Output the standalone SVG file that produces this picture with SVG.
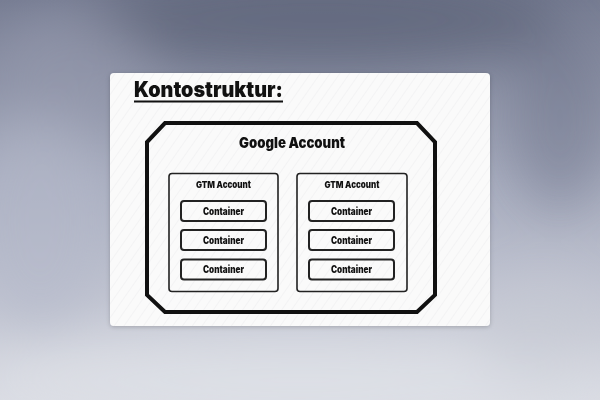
<svg xmlns="http://www.w3.org/2000/svg" width="600" height="400" viewBox="0 0 600 400">
<defs>
<linearGradient id="bg" x1="0" y1="0" x2="0" y2="1">
<stop offset="0" stop-color="#767c92"/>
<stop offset="0.45" stop-color="#a7acbe"/>
<stop offset="1" stop-color="#d9dbe3"/>
</linearGradient>
<filter id="blur" x="-50%" y="-50%" width="200%" height="200%"><feGaussianBlur stdDeviation="25"/></filter>
<filter id="shadow" x="-10%" y="-10%" width="120%" height="120%"><feDropShadow dx="0" dy="1" stdDeviation="2" flood-color="#000" flood-opacity="0.2"/></filter>
<pattern id="stripes" width="8" height="8" patternUnits="userSpaceOnUse" patternTransform="rotate(35)">
<rect width="8" height="8" fill="#fafafa"/>
<line x1="0" y1="0" x2="0" y2="8" stroke="#f1f1f3" stroke-width="1.5"/>
</pattern>
<style>
.t{font-family:Inter,Roboto,"Liberation Sans",sans-serif;font-weight:900;fill:#111;text-anchor:middle}
.gtm{fill:none;stroke:#222;stroke-width:1.6}
.cont{fill:none;stroke:#222;stroke-width:2}
.small{font-size:9.5px}
.ctext{font-size:10px}
</style>
</defs>
<rect width="600" height="400" fill="url(#bg)"/>
<g filter="url(#blur)">
<ellipse cx="320" cy="20" rx="240" ry="50" fill="#5d6378" opacity="0.7"/>
<ellipse cx="560" cy="120" rx="50" ry="90" fill="#6a7088" opacity="0.45"/>
<ellipse cx="40" cy="220" rx="70" ry="110" fill="#b4b9c9" opacity="0.6"/>
<ellipse cx="70" cy="70" rx="80" ry="60" fill="#959aae" opacity="0.6"/>
<ellipse cx="300" cy="380" rx="320" ry="40" fill="#dfe1e7" opacity="0.8"/>
<ellipse cx="540" cy="330" rx="70" ry="50" fill="#c6c9d4" opacity="0.6"/>
</g>
<rect x="110" y="73" width="380" height="253" rx="4" fill="url(#stripes)" filter="url(#shadow)"/>
<g id="title">
<text x="134" y="97" font-family="Inter,Roboto,'Liberation Sans',sans-serif" font-weight="900" font-size="21" fill="#111" textLength="149" lengthAdjust="spacingAndGlyphs">Kontostruktur:</text>
<rect x="134" y="100.5" width="149" height="2" fill="#111"/>
</g>
<g id="google-account">
<polygon points="165,123 417,123 435,142 435,295 417,312 165,312 147,295 147,142" fill="none" stroke="#111" stroke-width="4" stroke-linejoin="miter"/>
<text class="t" x="292" y="148" font-size="15" textLength="106" lengthAdjust="spacingAndGlyphs">Google Account</text>
</g>
<g id="gtm-account-1">
<rect class="gtm" x="169" y="173.5" width="109" height="118" rx="3"/>
<text class="t small" x="223.5" y="187.5" textLength="55" lengthAdjust="spacingAndGlyphs">GTM Account</text>
</g>
<g id="gtm-account-2">
<rect class="gtm" x="297" y="173.5" width="110" height="118" rx="3"/>
<text class="t small" x="352" y="187.5" textLength="55" lengthAdjust="spacingAndGlyphs">GTM Account</text>
</g>
<g id="container-1-1"><rect class="cont" x="181" y="201" width="85" height="20" rx="3"/><text class="t ctext" x="223.5" y="214.5" textLength="41" lengthAdjust="spacingAndGlyphs">Container</text></g>
<g id="container-1-2"><rect class="cont" x="181" y="230" width="85" height="20" rx="3"/><text class="t ctext" x="223.5" y="243.5" textLength="41" lengthAdjust="spacingAndGlyphs">Container</text></g>
<g id="container-1-3"><rect class="cont" x="181" y="259.5" width="85" height="20" rx="3"/><text class="t ctext" x="223.5" y="273" textLength="41" lengthAdjust="spacingAndGlyphs">Container</text></g>
<g id="container-2-1"><rect class="cont" x="309" y="201" width="85" height="20" rx="3"/><text class="t ctext" x="351.5" y="214.5" textLength="41" lengthAdjust="spacingAndGlyphs">Container</text></g>
<g id="container-2-2"><rect class="cont" x="309" y="230" width="85" height="20" rx="3"/><text class="t ctext" x="351.5" y="243.5" textLength="41" lengthAdjust="spacingAndGlyphs">Container</text></g>
<g id="container-2-3"><rect class="cont" x="309" y="259.5" width="85" height="20" rx="3"/><text class="t ctext" x="351.5" y="273" textLength="41" lengthAdjust="spacingAndGlyphs">Container</text></g>
<g id="connectors"/>
</svg>
